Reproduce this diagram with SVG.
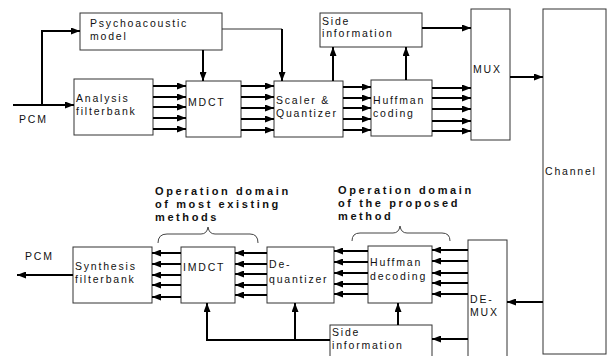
<svg xmlns="http://www.w3.org/2000/svg" width="607" height="356" viewBox="0 0 607 356">
<defs>
<marker id="ah" markerUnits="userSpaceOnUse" markerWidth="9" markerHeight="7" refX="9" refY="3.5" orient="auto">
<path d="M0,0 L9,3.5 L0,7 z" fill="#000"/>
</marker>
<style>
.box{fill:#fff;stroke:#333;stroke-width:1}
.t{font-family:"Liberation Sans",Arial,sans-serif;font-size:10.5px;letter-spacing:1.8px;fill:#111}
.b{font-family:"Liberation Sans",Arial,sans-serif;font-size:11px;font-weight:bold;letter-spacing:2.6px;fill:#111}
.a{stroke:#000;stroke-width:2;fill:none;marker-end:url(#ah)}
.l{stroke:#000;stroke-width:2;fill:none}
.th{stroke:#333;stroke-width:1;fill:none}
.br{stroke:#444;stroke-width:1;fill:none}
</style>
</defs>
<rect width="607" height="356" fill="#fff"/>

<g id="psycho"><rect class="box" x="80" y="13" width="142" height="37"/><text class="t" x="90" y="27">Psychoacoustic</text><text class="t" x="90" y="40">model</text></g>
<g id="analysis"><rect class="box" x="74" y="79" width="79" height="56"/><text class="t" x="76" y="102">Analysis</text><text class="t" x="76" y="115">filterbank</text></g>
<g id="mdct"><rect class="box" x="186" y="81" width="55" height="56"/><text class="t" x="188" y="106">MDCT</text></g>
<g id="scaler"><rect class="box" x="274" y="81" width="69" height="56"/><text class="t" x="276" y="104">Scaler &amp;</text><text class="t" x="276" y="117">Quantizer</text></g>
<g id="sideinfo-top"><rect class="box" x="320" y="13" width="102" height="34"/><text class="t" x="322" y="25">Side</text><text class="t" x="322" y="37">information</text></g>
<g id="huffman-coding"><rect class="box" x="371" y="80" width="61" height="56"/><text class="t" x="373" y="104">Huffman</text><text class="t" x="373" y="117">coding</text></g>
<g id="mux"><rect class="box" x="471" y="9" width="39" height="131"/><text class="t" x="473" y="73">MUX</text></g>
<g id="channel"><rect class="box" x="543" y="9" width="63" height="345"/><text class="t" x="545" y="175">Channel</text></g>
<g id="demux"><rect class="box" x="468" y="240" width="39" height="130"/><text class="t" x="470" y="303">DE-</text><text class="t" x="470" y="316">MUX</text></g>
<g id="huffman-decoding"><rect class="box" x="368" y="246" width="64" height="57"/><text class="t" x="370" y="266">Huffman</text><text class="t" x="370" y="280">decoding</text></g>
<g id="sideinfo-bottom"><rect class="box" x="330" y="325" width="102" height="45"/><text class="t" x="332" y="336">Side</text><text class="t" x="332" y="349">information</text></g>
<g id="dequantizer"><rect class="box" x="267" y="247" width="67" height="56"/><text class="t" x="269" y="268">De-</text><text class="t" x="269" y="283">quantizer</text></g>
<g id="imdct"><rect class="box" x="181" y="247" width="54" height="56"/><text class="t" x="183" y="271">IMDCT</text></g>
<g id="synthesis"><rect class="box" x="73" y="247" width="79" height="56"/><text class="t" x="75" y="270">Synthesis</text><text class="t" x="75" y="283">filterbank</text></g>

<g id="labels">
<text class="t" x="19" y="123">PCM</text>
<text class="t" x="25" y="260">PCM</text>
<text class="b" x="155" y="195">Operation domain</text>
<text class="b" x="155" y="208">of most existing</text>
<text class="b" x="155" y="221">methods</text>
<text class="b" x="338" y="194">Operation domain</text>
<text class="b" x="338" y="207">of the proposed</text>
<text class="b" x="338" y="220">method</text>
<path class="br" d="M158,243 Q158,234 167,234 L201,234 Q207,234 208,227 Q209,234 215,234 L250,234 Q258,234 258,243"/>
<path class="br" d="M352,241 Q352,233 360,233 L393,233 Q399,233 400,226 Q401,233 407,233 L442,233 Q450,233 450,241"/>
</g>

<g id="connectors">
<!-- PCM input -->
<line class="a" x1="13" y1="105" x2="74" y2="105"/>
<polyline class="a" points="42,105 42,31 80,31"/>
<!-- psycho -->
<line class="a" x1="203" y1="50" x2="203" y2="81"/>
<polyline class="th" points="222,29 282,29"/>
<line class="a" x1="282" y1="29" x2="282" y2="81"/>
<!-- analysis to mdct -->
<line class="a" x1="153" y1="86" x2="186" y2="86"/>
<line class="a" x1="153" y1="97" x2="186" y2="97"/>
<line class="a" x1="153" y1="107" x2="186" y2="107"/>
<line class="a" x1="153" y1="118" x2="186" y2="118"/>
<line class="a" x1="153" y1="129" x2="186" y2="129"/>
<!-- mdct to scaler -->
<line class="a" x1="241" y1="86" x2="274" y2="86"/>
<line class="a" x1="241" y1="97" x2="274" y2="97"/>
<line class="a" x1="241" y1="108" x2="274" y2="108"/>
<line class="a" x1="241" y1="119" x2="274" y2="119"/>
<line class="a" x1="241" y1="130" x2="274" y2="130"/>
<!-- scaler to side info -->
<line class="a" x1="333" y1="81" x2="333" y2="47"/>
<!-- scaler to huffman -->
<line class="a" x1="343" y1="87" x2="371" y2="87"/>
<line class="a" x1="343" y1="98" x2="371" y2="98"/>
<line class="a" x1="343" y1="108" x2="371" y2="108"/>
<line class="a" x1="343" y1="119" x2="371" y2="119"/>
<line class="a" x1="343" y1="130" x2="371" y2="130"/>
<!-- huffman to side info -->
<line class="a" x1="406" y1="80" x2="406" y2="47"/>
<!-- side info to mux -->
<line class="a" x1="422" y1="28" x2="471" y2="28"/>
<!-- huffman to mux -->
<line class="a" x1="432" y1="88" x2="471" y2="88"/>
<line class="a" x1="432" y1="98" x2="471" y2="98"/>
<line class="a" x1="432" y1="109" x2="471" y2="109"/>
<line class="a" x1="432" y1="121" x2="471" y2="121"/>
<line class="a" x1="432" y1="131" x2="471" y2="131"/>
<!-- mux to channel -->
<line class="a" x1="510" y1="77" x2="543" y2="77"/>
<!-- channel to demux -->
<line class="a" x1="543" y1="302" x2="507" y2="302"/>
<!-- demux to huffman decoding -->
<line class="a" x1="468" y1="250" x2="432" y2="250"/>
<line class="a" x1="468" y1="261" x2="432" y2="261"/>
<line class="a" x1="468" y1="273" x2="432" y2="273"/>
<line class="a" x1="468" y1="283" x2="432" y2="283"/>
<line class="a" x1="468" y1="294" x2="432" y2="294"/>
<!-- demux to side info bottom -->
<line class="a" x1="468" y1="339" x2="432" y2="339"/>
<!-- side info to huffman decoding -->
<line class="a" x1="398" y1="325" x2="398" y2="303"/>
<!-- side info to imdct and dequantizer -->
<polyline class="a" points="330,340 207,340 207,303"/>
<line class="a" x1="295" y1="340" x2="295" y2="303"/>
<!-- huffman decoding to dequantizer -->
<line class="a" x1="368" y1="251" x2="334" y2="251"/>
<line class="a" x1="368" y1="262" x2="334" y2="262"/>
<line class="a" x1="368" y1="273" x2="334" y2="273"/>
<line class="a" x1="368" y1="284" x2="334" y2="284"/>
<line class="a" x1="368" y1="294" x2="334" y2="294"/>
<!-- dequantizer to imdct -->
<line class="a" x1="267" y1="253" x2="235" y2="253"/>
<line class="a" x1="267" y1="264" x2="235" y2="264"/>
<line class="a" x1="267" y1="274" x2="235" y2="274"/>
<line class="a" x1="267" y1="285" x2="235" y2="285"/>
<line class="a" x1="267" y1="295" x2="235" y2="295"/>
<!-- imdct to synthesis -->
<line class="a" x1="181" y1="253" x2="152" y2="253"/>
<line class="a" x1="181" y1="264" x2="152" y2="264"/>
<line class="a" x1="181" y1="275" x2="152" y2="275"/>
<line class="a" x1="181" y1="285" x2="152" y2="285"/>
<line class="a" x1="181" y1="297" x2="152" y2="297"/>
<!-- output PCM -->
<line class="a" x1="73" y1="275" x2="17" y2="275"/>
</g>
</svg>
